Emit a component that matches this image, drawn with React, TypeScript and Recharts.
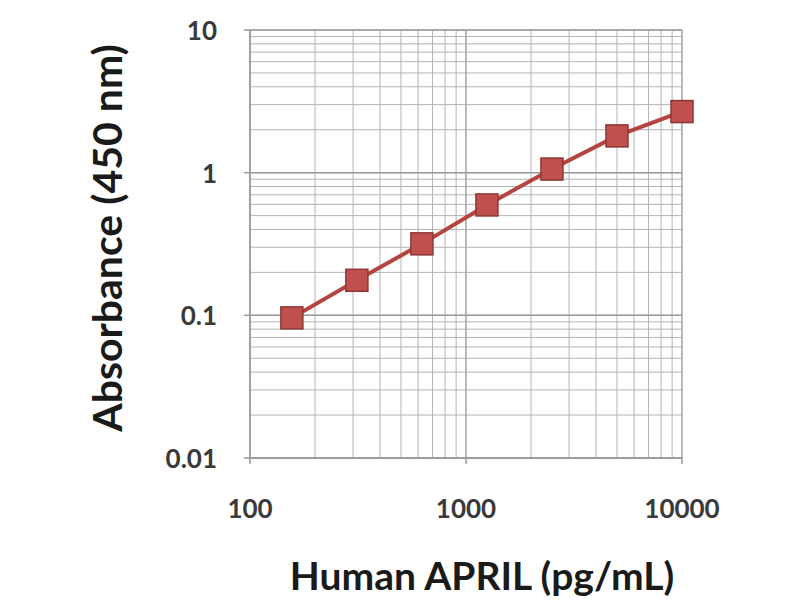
import { LineChart, Line, XAxis, YAxis, CartesianGrid, ReferenceLine } from "recharts";

const concentrations = [156.25, 312.5, 625, 1250, 2500, 5000, 10000];
const absorbance = [0.096, 0.176, 0.317, 0.594, 1.06, 1.81, 2.68];

const xTicks = [100, 200, 300, 400, 500, 600, 700, 800, 900, 1000, 2000, 3000, 4000, 5000, 6000, 7000, 8000, 9000, 10000];
const yTicks = [
  0.01, 0.02, 0.03, 0.04, 0.05, 0.06, 0.07, 0.08, 0.09,
  0.1, 0.2, 0.3, 0.4, 0.5, 0.6, 0.7, 0.8, 0.9,
  1, 2, 3, 4, 5, 6, 7, 8, 9, 10,
];
const xMajor = [100, 1000, 10000];
const yMajor = [0.01, 0.1, 1, 10];

const data = concentrations.map((c, i) => ({ conc: c, abs: absorbance[i] }));

const FONT = "Lato, 'Open Sans', sans-serif";
const GRID = "#b4b4b4";

const isMajor = (v: number, majors: number[]) => majors.some((m) => Math.abs(m - v) < 1e-9);

function XTick({ x, y, payload }: any) {
  if (!isMajor(payload.value, xMajor)) return null;
  return (
    <g>
      <line x1={x} x2={x} y1={y} y2={y + 6} stroke="#999" strokeWidth={1.5} />
      <text x={x} y={y + 60} textAnchor="middle" fontFamily={FONT} fontSize={26} fontWeight={700} fill="#3a3a3a">
        {payload.value}
      </text>
    </g>
  );
}

function YTick({ x, y, payload }: any) {
  if (!isMajor(payload.value, yMajor)) return null;
  return (
    <g>
      <line x1={x - 6} x2={x} y1={y} y2={y} stroke="#999" strokeWidth={1.5} />
      <text x={x - 33} y={y + 10} textAnchor="end" fontFamily={FONT} fontSize={26} fontWeight={700} fill="#3a3a3a">
        {payload.value}
      </text>
    </g>
  );
}

function Square({ cx, cy }: any) {
  if (cx == null || cy == null) return null;
  return <rect x={cx - 11} y={cy - 11} width={22} height={22} fill="#c0504d" stroke="#8e3634" strokeWidth={1.5} />;
}

export default function App() {
  return (
    <div style={{ position: "absolute", left: 0, top: 0, width: 800, height: 600, background: "#fff" }}>
      <LineChart width={800} height={600} data={data} margin={{ top: 30, right: 118, bottom: 0, left: 0 }}>
        <CartesianGrid stroke={GRID} strokeWidth={1} />
        {yMajor.map((v) => (
          <ReferenceLine key={"y" + v} y={v} stroke="#9a9a9a" strokeWidth={1.5} />
        ))}
        {xMajor.map((v) => (
          <ReferenceLine key={"x" + v} x={v} stroke="#a4a4a4" strokeWidth={1.2} />
        ))}
        <XAxis
          dataKey="conc"
          type="number"
          scale="log"
          domain={[100, 10000]}
          ticks={xTicks}
          interval={0}
          height={142}
          tickSize={0}
          tickMargin={0}
          tickLine={false}
          axisLine={{ stroke: "#999", strokeWidth: 1.5 }}
          tick={<XTick />}
          label={() => (
            <text x={482} y={590} textAnchor="middle" fontFamily={FONT} fontSize={39} fontWeight={700} fill="#1a1a1a">
              Human APRIL (pg/mL)
            </text>
          )}
        />
        <YAxis
          dataKey="abs"
          type="number"
          scale="log"
          domain={[0.01, 10]}
          ticks={yTicks}
          interval={0}
          width={250}
          tickSize={0}
          tickMargin={0}
          tickLine={false}
          axisLine={{ stroke: "#999", strokeWidth: 1.5 }}
          tick={<YTick />}
          label={() => (
            <text
              x={122}
              y={238}
              textAnchor="middle"
              transform="rotate(-90 122 238)"
              fontFamily={FONT}
              fontSize={41}
              fontWeight={700}
              fill="#1a1a1a"
            >
              Absorbance (450 nm)
            </text>
          )}
        />
        <Line
          dataKey="abs"
          stroke="#b4443f"
          strokeWidth={4}
          dot={<Square />}
          activeDot={false}
          isAnimationActive={false}
        />
      </LineChart>
    </div>
  );
}
